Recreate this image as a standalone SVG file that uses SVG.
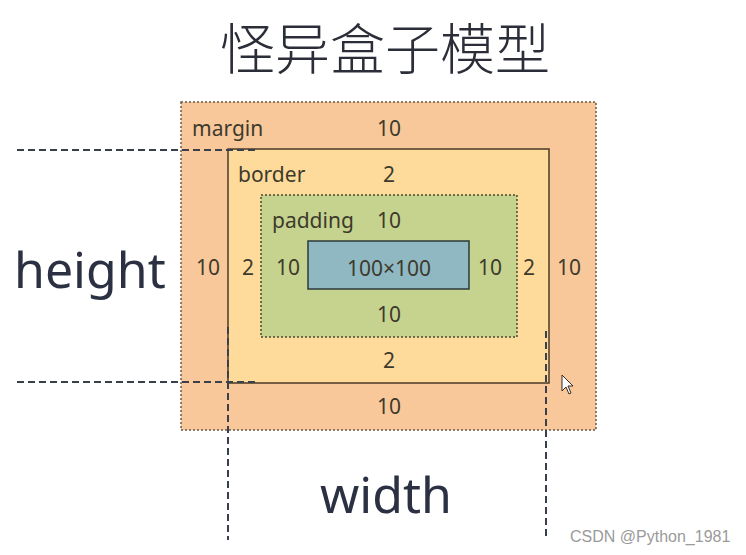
<svg xmlns="http://www.w3.org/2000/svg" width="746" height="555" viewBox="0 0 746 555">
<style>
.lbl{font-family:"Noto Sans","Open Sans",sans-serif;font-size:21px;fill:#3d3a2c}
.mid{text-anchor:middle}
.big{font-family:"Noto Sans","Open Sans",sans-serif;font-size:50px;fill:#2b3142}
.dash{stroke:#3a3f4c;stroke-width:2;stroke-dasharray:7 4;fill:none}
</style>
<rect width="746" height="555" fill="#ffffff"/>
<text x="385" y="69" text-anchor="middle" font-family="'Noto Sans CJK SC',sans-serif" font-size="55" font-weight="300" fill="#2b2e38">怪异盒子模型</text>
<g id="margin">
<rect x="181" y="102" width="415" height="328" fill="#f8c89b" stroke="#6a5a48" stroke-width="1.5" stroke-dasharray="2 2"/>
<text class="lbl" x="192" y="136">margin</text>
<text class="lbl mid" x="389" y="136">10</text>
<text class="lbl mid" x="208" y="275">10</text>
<text class="lbl mid" x="569" y="275">10</text>
<text class="lbl mid" x="389" y="414">10</text>
</g>
<g id="border">
<rect x="228" y="149" width="321" height="234" fill="#fedb9a" stroke="#4a3a28" stroke-width="1.5"/>
<text class="lbl" x="238" y="182">border</text>
<text class="lbl mid" x="389" y="182">2</text>
<text class="lbl mid" x="248" y="275">2</text>
<text class="lbl mid" x="529" y="275">2</text>
<text class="lbl mid" x="389" y="368">2</text>
</g>
<g id="padding">
<rect x="261" y="195" width="256" height="142" fill="#c5d38f" stroke="#4a4a30" stroke-width="1.5" stroke-dasharray="2 2"/>
<text class="lbl" x="272" y="228">padding</text>
<text class="lbl mid" x="389" y="228">10</text>
<text class="lbl mid" x="288" y="275">10</text>
<text class="lbl mid" x="490" y="275">10</text>
<text class="lbl mid" x="389" y="322">10</text>
</g>
<g id="content">
<rect x="308" y="241" width="161" height="48" fill="#8fb8c3" stroke="#2c3a3a" stroke-width="1.5"/>
<text class="lbl mid" x="389" y="276" font-size="23">100×100</text>
</g>
<g id="connectors">
<line class="dash" x1="17" y1="150" x2="258" y2="150"/>
<line class="dash" x1="17" y1="382" x2="258" y2="382"/>
<line class="dash" x1="228" y1="327" x2="228" y2="540"/>
<line class="dash" x1="546" y1="331" x2="546" y2="540"/>
</g>
<text class="big" x="14" y="288">height</text>
<text class="big mid" x="386" y="513">width</text>
<path d="M562 375 L562 391 L566 387 L569 394 L571 393 L568 386 L573 386 Z" fill="#ffffff" stroke="#3a2a20" stroke-width="1"/>
<text x="570" y="542" font-family="'Liberation Sans',Arial,sans-serif" font-size="16" fill="#9a9a9a">CSDN @Python_1981</text>
</svg>
